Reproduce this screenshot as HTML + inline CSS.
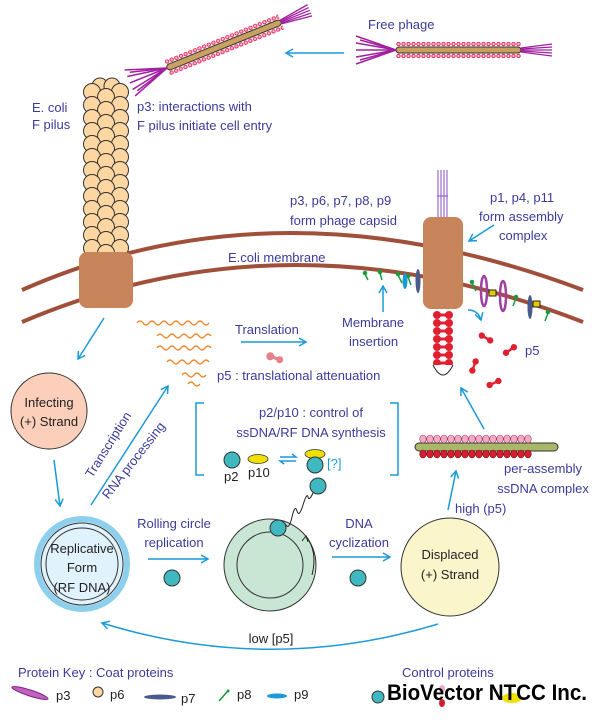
<!DOCTYPE html>
<html><head><meta charset="utf-8"><style>
html,body{margin:0;padding:0;background:#fff;}
svg{display:block;}
text{font-family:"Liberation Sans",sans-serif;font-size:13px;fill:#3b3b9b;}
.k{fill:#222;}
</style></head><body>
<svg width="600" height="723" viewBox="0 0 600 723" xmlns="http://www.w3.org/2000/svg">
<defs>
<pattern id="dots" width="5" height="16" patternUnits="userSpaceOnUse" y="-8">
<circle cx="2.5" cy="2" r="1.7" fill="#f7c6d4" stroke="#e6245a" stroke-width="1"/>
<circle cx="2.5" cy="14" r="1.7" fill="#f7c6d4" stroke="#e6245a" stroke-width="1"/>
</pattern>
<marker id="ar" markerWidth="10" markerHeight="10" refX="8" refY="5" orient="auto" markerUnits="userSpaceOnUse">
<path d="M1,1 L8,5 L1,9" fill="none" stroke="#1a9ad6" stroke-width="1.5"/>
</marker>
<g id="fanL" stroke="#a020a0" stroke-width="1.5">
<line x1="0" y1="0" x2="-40" y2="-14"/><line x1="0" y1="0" x2="-40" y2="-7"/><line x1="0" y1="0" x2="-40" y2="0"/><line x1="0" y1="0" x2="-40" y2="7"/><line x1="0" y1="0" x2="-40" y2="14"/><line x1="0" y1="0" x2="-36" y2="-10"/><line x1="0" y1="0" x2="-36" y2="10"/>
</g>
<g id="fanR" stroke="#a020a0" stroke-width="1.3">
<line x1="0" y1="-2" x2="31" y2="-6"/><line x1="0" y1="-1" x2="31" y2="-3"/><line x1="0" y1="0" x2="31" y2="0"/><line x1="0" y1="1" x2="31" y2="3"/><line x1="0" y1="2" x2="31" y2="6"/>
</g>
<g id="dumb"><circle cx="-6" cy="0" r="4" fill="#e02030"/><circle cx="6" cy="0" r="4" fill="#e02030"/><rect x="-6" y="-1.5" width="12" height="3" fill="#e02030"/></g>
<g id="prow"><circle cx="92" cy="0" r="8.5" fill="#fdd6a2" stroke="#333" stroke-width="1"/><circle cx="120" cy="0" r="8.5" fill="#fdd6a2" stroke="#333" stroke-width="1"/><circle cx="106" cy="5" r="8.5" fill="#fdd6a2" stroke="#333" stroke-width="1"/></g>
</defs>

<!-- free phage -->
<text x="368" y="29">Free phage</text>
<g transform="translate(396,50)">
<rect x="0" y="-8" width="125" height="16" fill="url(#dots)"/>
<rect x="0" y="-3" width="125" height="6" rx="3" fill="#c8a060" stroke="#333" stroke-width="1"/>
<use href="#fanL"/><g transform="translate(125,0)"><use href="#fanR"/></g>
</g>
<line x1="344" y1="53" x2="286" y2="53" stroke="#1a9ad6" stroke-width="1.5" marker-end="url(#ar)"/>
<g transform="translate(167,68) rotate(-22)">
<rect x="0" y="-8" width="123" height="16" fill="url(#dots)"/>
<rect x="0" y="-3" width="123" height="6" rx="3" fill="#c8a060" stroke="#333" stroke-width="1"/>
<use href="#fanL"/><g transform="translate(123,0)"><use href="#fanR"/></g>
</g>

<!-- membrane -->
<path d="M22,290 Q280,176 583,290" fill="none" stroke="#a0503a" stroke-width="4"/>
<path d="M22,322 Q290,208 583,322" fill="none" stroke="#a0503a" stroke-width="4"/>

<!-- pilus -->
<g fill="#fdd6a2" stroke="#333" stroke-width="1">
<circle cx="100" cy="86" r="8"/><circle cx="112" cy="86" r="8"/>
</g>
<use href="#prow" y="92"/><use href="#prow" y="105"/><use href="#prow" y="118"/><use href="#prow" y="131"/><use href="#prow" y="144"/><use href="#prow" y="157"/><use href="#prow" y="170"/><use href="#prow" y="183"/><use href="#prow" y="196"/><use href="#prow" y="209"/><use href="#prow" y="222"/><use href="#prow" y="235"/><use href="#prow" y="248"/>
<rect x="79" y="252" width="54" height="56" rx="8" fill="#c8845a"/>

<text x="32" y="112">E. coli</text>
<text x="32" y="129">F pilus</text>
<text x="137" y="111">p3: interactions with</text>
<text x="137" y="130">F pilus initiate cell entry</text>
<text x="290" y="205">p3, p6, p7, p8, p9</text>
<text x="290" y="225">form phage capsid</text>
<text x="490" y="202">p1, p4, p11</text>
<text x="479" y="221">form assembly</text>
<text x="499" y="240">complex</text>
<line x1="494" y1="225" x2="469" y2="241" stroke="#1a9ad6" stroke-width="1.5" marker-end="url(#ar)"/>
<text x="228" y="262">E.coli membrane</text>

<!-- right pore -->
<g stroke="#8a4fc0" stroke-width="1"><line x1="438" y1="170" x2="438" y2="217"/><line x1="441" y1="170" x2="441" y2="217"/><line x1="444" y1="170" x2="444" y2="217"/><line x1="447" y1="170" x2="447" y2="217"/><line x1="437" y1="196" x2="448" y2="196"/></g>
<rect x="423" y="217" width="40" height="92" rx="8" fill="#c8845a"/>
<g stroke="#1a9a3a" stroke-width="1.5" fill="#1a9a3a">
<line x1="365" y1="274" x2="368" y2="280"/><circle cx="365" cy="273" r="1.5"/>
<line x1="380" y1="273" x2="382" y2="280"/><circle cx="380" cy="272" r="1.5"/>
<line x1="398" y1="275" x2="402" y2="283"/><circle cx="398" cy="274" r="1.5"/>
<line x1="408" y1="277" x2="411" y2="285"/><circle cx="408" cy="276" r="1.5"/>
<line x1="472" y1="283" x2="476" y2="291"/><circle cx="472" cy="282" r="1.5"/>
<line x1="516" y1="298" x2="513" y2="306"/><circle cx="516" cy="297" r="1.5"/>
<line x1="548" y1="313" x2="545" y2="321"/><circle cx="548" cy="312" r="1.5"/>
</g>
<ellipse cx="405" cy="281" rx="2.5" ry="8" fill="#1a9ad6"/>
<ellipse cx="418" cy="281" rx="2.5" ry="12" fill="#4a5a8a"/>
<ellipse cx="484" cy="291" rx="3" ry="15" fill="none" stroke="#a040a0" stroke-width="2.5"/>
<ellipse cx="503" cy="296" rx="3" ry="15" fill="none" stroke="#a040a0" stroke-width="2.5"/>
<ellipse cx="530" cy="307" rx="2.5" ry="12" fill="#4a5a8a"/>
<rect x="489" y="290" width="7" height="6" fill="#e8c800" stroke="#222"/>
<rect x="533" y="301" width="7" height="6" fill="#e8c800" stroke="#222"/>

<line x1="383" y1="312" x2="383" y2="286" stroke="#1a9ad6" stroke-width="1.5" marker-end="url(#ar)"/>
<text x="342" y="327">Membrane</text>
<text x="349" y="346">insertion</text>

<!-- red chain -->
<g>
<use href="#dumb" transform="translate(443,315)"/><use href="#dumb" transform="translate(443,323)"/><use href="#dumb" transform="translate(443,331)"/><use href="#dumb" transform="translate(443,339)"/><use href="#dumb" transform="translate(443,347)"/><use href="#dumb" transform="translate(443,355)"/><use href="#dumb" transform="translate(443,363)"/>
<path d="M433,365 Q443,385 453,365" fill="#fff" stroke="#222" stroke-width="1"/>
</g>
<path d="M468,310 Q478,310 481,320" fill="none" stroke="#1a9ad6" stroke-width="1.5" marker-end="url(#ar)"/>
<use href="#dumb" transform="translate(486,338) rotate(30) scale(0.8)"/>
<use href="#dumb" transform="translate(474,366) rotate(-70) scale(0.8)"/>
<use href="#dumb" transform="translate(510,350) rotate(-35) scale(0.8)"/>
<use href="#dumb" transform="translate(494,383) rotate(-25) scale(0.8)"/>
<text x="525" y="355">p5</text>

<!-- mRNA waves -->
<g fill="none" stroke="#f08020" stroke-width="1.2">
<path d="M137,323 q3,-4 6,0 t6,0 t6,0 t6,0 t6,0 t6,0 t6,0 t6,0 t6,0 t6,0 t6,0 t6,0"/>
<path d="M157,336 q3,-4 6,0 t6,0 t6,0 t6,0 t6,0 t6,0 t6,0 t6,0 t6,0"/>
<path d="M157,348 q3,-4 6,0 t6,0 t6,0 t6,0 t6,0 t6,0 t6,0 t6,0 t6,0"/>
<path d="M167,362 q3,-4 6,0 t6,0 t6,0 t6,0 t6,0 t6,0 t6,0"/>
<path d="M182,375 q3,-4 6,0 t6,0 t6,0 t6,0"/>
<path d="M188,384 q3,-4 6,0 t6,0"/>
</g>
<text x="235" y="334">Translation</text>
<line x1="241" y1="342" x2="306" y2="342" stroke="#1a9ad6" stroke-width="1.5" marker-end="url(#ar)"/>
<g transform="translate(275,358) rotate(20)"><circle cx="-5" cy="0" r="4" fill="#e8808a"/><circle cx="5" cy="0" r="3.5" fill="#e8808a"/><rect x="-5" y="-1.5" width="10" height="3" fill="#e8808a"/></g>
<text x="217" y="380">p5 : translational attenuation</text>

<line x1="104" y1="318" x2="78" y2="359" stroke="#1a9ad6" stroke-width="1.5" marker-end="url(#ar)"/>
<circle cx="49" cy="411" r="38" fill="#fbcfba" stroke="#333" stroke-width="1"/>
<text x="49" y="407" text-anchor="middle" class="k">Infecting</text>
<text x="49" y="426" text-anchor="middle" class="k">(+) Strand</text>
<line x1="54" y1="460" x2="60" y2="506" stroke="#1a9ad6" stroke-width="1.5" marker-end="url(#ar)"/>
<line x1="91" y1="505" x2="168" y2="386" stroke="#1a9ad6" stroke-width="1.5" marker-end="url(#ar)"/>
<text x="112" y="447" text-anchor="middle" transform="rotate(-58 112 447)">Transcription</text>
<text x="137" y="463" text-anchor="middle" transform="rotate(-52 137 463)">RNA processing</text>

<path d="M204,403 H196 V475 H204" fill="none" stroke="#1a9ad6" stroke-width="1.5"/>
<path d="M390,403 H398 V475 H390" fill="none" stroke="#1a9ad6" stroke-width="1.5"/>
<text x="311" y="417" text-anchor="middle">p2/p10 : control of</text>
<text x="311" y="437" text-anchor="middle">ssDNA/RF DNA synthesis</text>
<circle cx="232" cy="460" r="8" fill="#40b8c0" stroke="#333"/>
<ellipse cx="258" cy="459" rx="10" ry="4.5" fill="#f0e000" stroke="#333" stroke-width="0.8"/>
<text x="224" y="481" class="k">p2</text>
<text x="248" y="477" class="k">p10</text>
<path d="M280,457 h16 l-4,-3 M296,461 h-16 l4,3" fill="none" stroke="#1a9ad6" stroke-width="1.5"/>
<ellipse cx="315" cy="454" rx="10" ry="4.5" fill="#f0e000" stroke="#333" stroke-width="0.8"/>
<circle cx="315" cy="465" r="8" fill="#40b8c0" stroke="#333"/>
<text x="327" y="468" style="fill:#1a9ad6">[?]</text>

<circle cx="82" cy="564" r="45" fill="#e0f2fb" stroke="#8dd0ee" stroke-width="6"/>
<circle cx="82" cy="564" r="41" fill="none" stroke="#333" stroke-width="1"/>
<circle cx="82" cy="564" r="36" fill="none" stroke="#333" stroke-width="1"/>
<text x="82" y="553" text-anchor="middle" class="k">Replicative</text>
<text x="82" y="572" text-anchor="middle" class="k">Form</text>
<text x="82" y="592" text-anchor="middle" class="k">(RF DNA)</text>
<text x="174" y="528" text-anchor="middle">Rolling circle</text>
<text x="174" y="547" text-anchor="middle">replication</text>
<line x1="148" y1="559" x2="208" y2="559" stroke="#1a9ad6" stroke-width="1.5" marker-end="url(#ar)"/>
<circle cx="172" cy="578" r="8" fill="#40b8c0" stroke="#333"/>

<circle cx="270" cy="565" r="46" fill="#c9e6d4" stroke="#333" stroke-width="1"/>
<circle cx="270" cy="565" r="33" fill="#c9e6d4" stroke="#333" stroke-width="1"/>
<path d="M278,528 q5,-8 8,-3 t6,-8 t5,-6 t6,-6 t5,-8 t6,-6 t6,-7 t5,-2" fill="none" stroke="#222" stroke-width="1"/>
<circle cx="318" cy="486" r="8" fill="#40b8c0" stroke="#333"/>
<circle cx="278" cy="528" r="8" fill="#40b8c0" stroke="#333"/>
<path d="M312,575 Q318,552 306,536" fill="none" stroke="#222" stroke-width="1"/>
<path d="M302,541 l4,-5 l2,6" fill="none" stroke="#222" stroke-width="1"/>
<text x="359" y="528" text-anchor="middle">DNA</text>
<text x="359" y="547" text-anchor="middle">cyclization</text>
<line x1="332" y1="557" x2="390" y2="557" stroke="#1a9ad6" stroke-width="1.5" marker-end="url(#ar)"/>
<circle cx="358" cy="578" r="8" fill="#40b8c0" stroke="#333"/>

<circle cx="450" cy="567" r="49" fill="#fbf5cc" stroke="#333" stroke-width="1"/>
<text x="450" y="559" text-anchor="middle" class="k">Displaced</text>
<text x="450" y="579" text-anchor="middle" class="k">(+) Strand</text>
<text x="455" y="513">high (p5)</text>
<line x1="448" y1="510" x2="456" y2="471" stroke="#1a9ad6" stroke-width="1.5" marker-end="url(#ar)"/>

<rect x="415" y="443" width="143" height="8" rx="4" fill="#a8b868" stroke="#333" stroke-width="1"/>
<g fill="#f4a8c8" stroke="#a04060" stroke-width="0.6">
<ellipse cx="423" cy="439" rx="3.3" ry="4"/><ellipse cx="430" cy="439" rx="3.3" ry="4"/><ellipse cx="437" cy="439" rx="3.3" ry="4"/><ellipse cx="444" cy="439" rx="3.3" ry="4"/><ellipse cx="451" cy="439" rx="3.3" ry="4"/><ellipse cx="458" cy="439" rx="3.3" ry="4"/><ellipse cx="465" cy="439" rx="3.3" ry="4"/><ellipse cx="472" cy="439" rx="3.3" ry="4"/><ellipse cx="479" cy="439" rx="3.3" ry="4"/><ellipse cx="486" cy="439" rx="3.3" ry="4"/><ellipse cx="493" cy="439" rx="3.3" ry="4"/><ellipse cx="500" cy="439" rx="3.3" ry="4"/><ellipse cx="507" cy="439" rx="3.3" ry="4"/><ellipse cx="514" cy="439" rx="3.3" ry="4"/><ellipse cx="521" cy="439" rx="3.3" ry="4"/><ellipse cx="528" cy="439" rx="3.3" ry="4"/>
</g>
<g fill="#d02030" stroke="#801020" stroke-width="0.6">
<ellipse cx="423" cy="454" rx="3.3" ry="4"/><ellipse cx="430" cy="454" rx="3.3" ry="4"/><ellipse cx="437" cy="454" rx="3.3" ry="4"/><ellipse cx="444" cy="454" rx="3.3" ry="4"/><ellipse cx="451" cy="454" rx="3.3" ry="4"/><ellipse cx="458" cy="454" rx="3.3" ry="4"/><ellipse cx="465" cy="454" rx="3.3" ry="4"/><ellipse cx="472" cy="454" rx="3.3" ry="4"/><ellipse cx="479" cy="454" rx="3.3" ry="4"/><ellipse cx="486" cy="454" rx="3.3" ry="4"/><ellipse cx="493" cy="454" rx="3.3" ry="4"/><ellipse cx="500" cy="454" rx="3.3" ry="4"/><ellipse cx="507" cy="454" rx="3.3" ry="4"/><ellipse cx="514" cy="454" rx="3.3" ry="4"/><ellipse cx="521" cy="454" rx="3.3" ry="4"/><ellipse cx="528" cy="454" rx="3.3" ry="4"/>
</g>
<text x="543" y="473" text-anchor="middle">per-assembly</text>
<text x="543" y="493" text-anchor="middle">ssDNA complex</text>
<line x1="484" y1="429" x2="461" y2="388" stroke="#1a9ad6" stroke-width="1.5" marker-end="url(#ar)"/>

<path d="M438,624 Q270,675 102,623" fill="none" stroke="#1a9ad6" stroke-width="1.5" marker-end="url(#ar)"/>
<text x="271" y="643" text-anchor="middle" class="k">low [p5]</text>

<text x="18" y="677">Protein Key :  Coat proteins</text>
<text x="402" y="677">Control proteins</text>
<ellipse cx="30" cy="693" rx="19" ry="3" transform="rotate(18 30 693)" fill="#c060c0" stroke="#802080"/>
<text x="56" y="700" class="k">p3</text>
<circle cx="98" cy="692" r="5" fill="#fdd6a2" stroke="#333"/>
<text x="110" y="699" class="k">p6</text>
<ellipse cx="160" cy="697" rx="16" ry="2.5" fill="#4a5a8a"/>
<text x="181" y="703" class="k">p7</text>
<line x1="219" y1="701" x2="227" y2="692" stroke="#1a9a3a" stroke-width="1.5"/><circle cx="228" cy="691" r="1.5" fill="#1a9a3a"/>
<text x="237" y="699" class="k">p8</text>
<ellipse cx="277" cy="696" rx="10" ry="2.5" fill="#1a9ad6"/>
<text x="294" y="699" class="k">p9</text>
<circle cx="378" cy="697" r="6" fill="#40b8c0" stroke="#333"/>
<ellipse cx="442" cy="689" rx="3" ry="4" fill="#f4a8c8"/><ellipse cx="442" cy="703" rx="3" ry="4" fill="#d02030"/>
<ellipse cx="512" cy="698" rx="10" ry="5" fill="#f0e000"/>
<text x="387" y="700" style="fill:#000;font-weight:bold;font-size:22px" textLength="200" lengthAdjust="spacingAndGlyphs">BioVector NTCC Inc.</text>
</svg>
</body></html>
